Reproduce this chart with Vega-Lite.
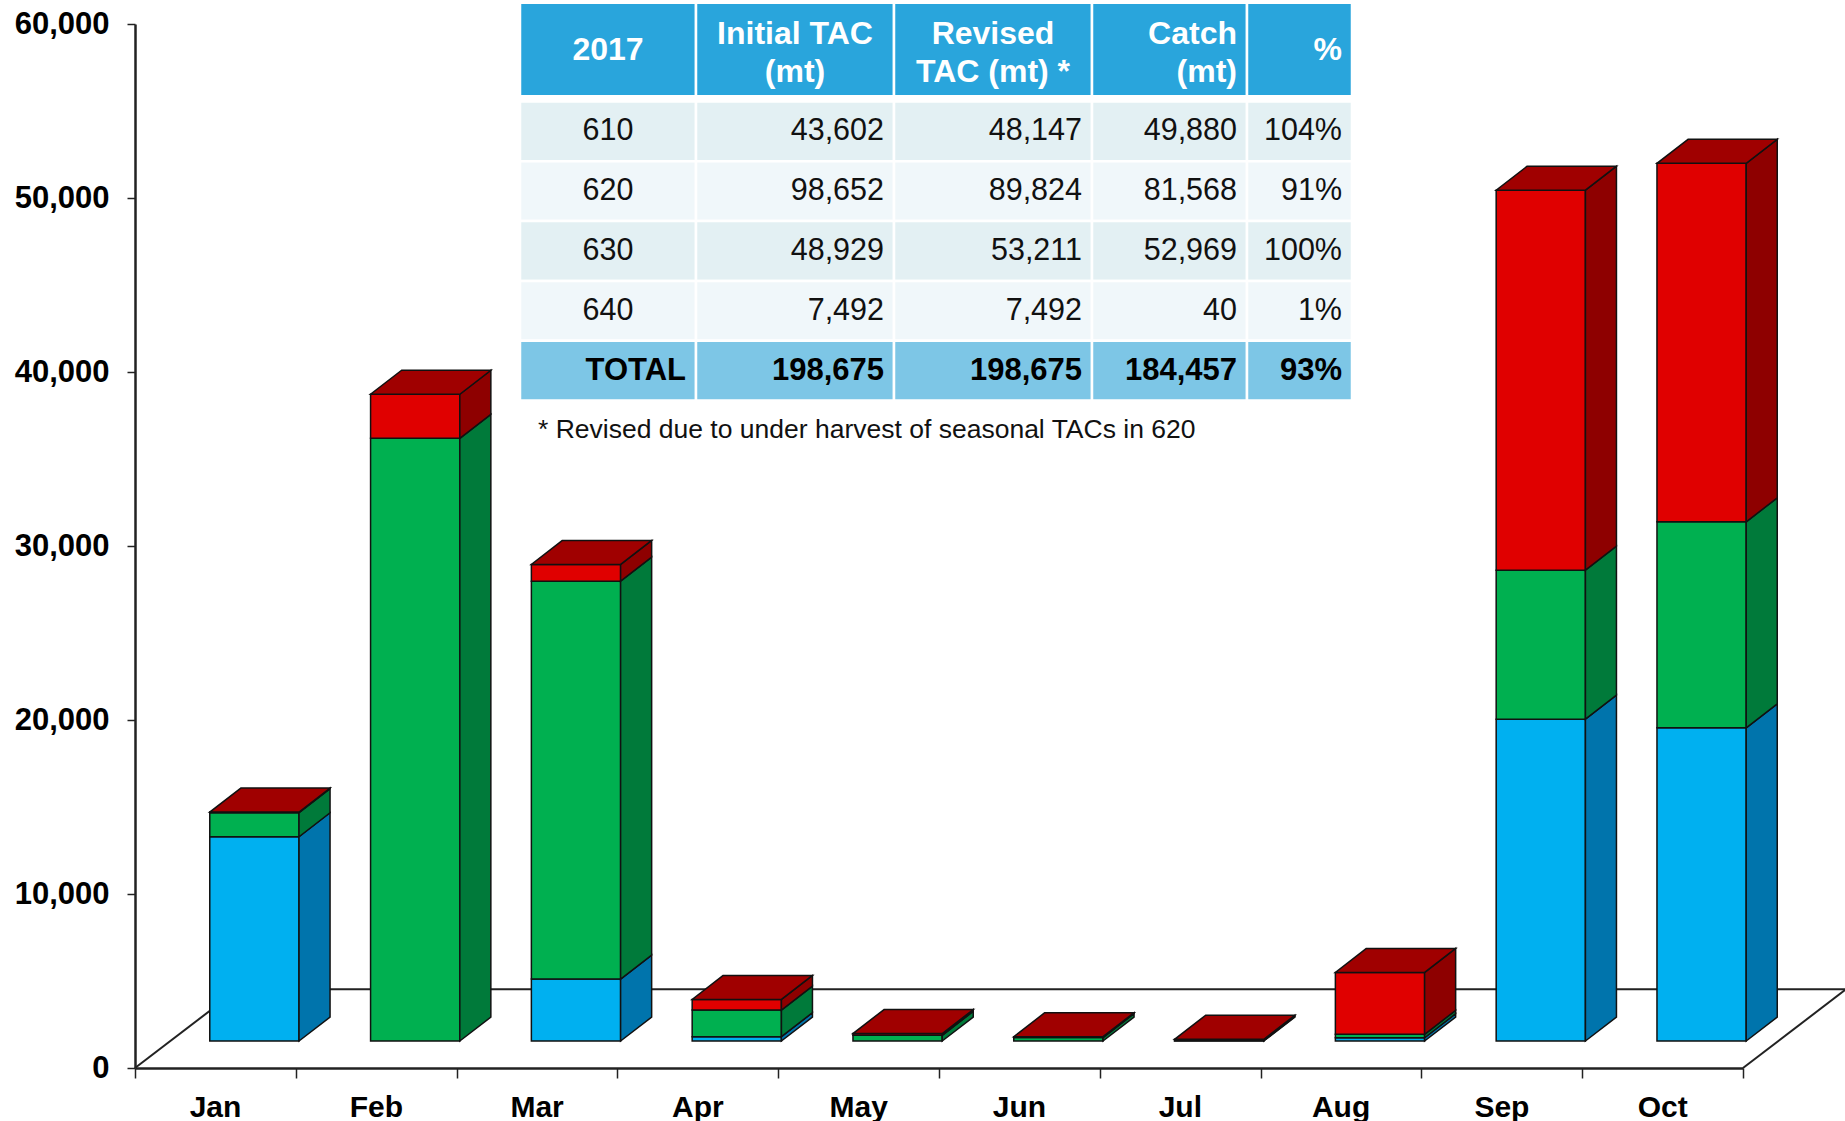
{
"$schema": "https://vega.github.io/schema/vega-lite/v6.json",
"width": 1608,
"height": 1044,
"autosize": {"type": "none"},
"padding": {"left": 135, "top": 24, "right": 102, "bottom": 53},
"background": "white",
"config": {"view": {"stroke": null}, "font": "Liberation Sans", "text": {"font": "Liberation Sans"}},
"resolve": {"scale": {"x": "independent", "y": "independent"}},
"layer": [
{
"data": {"values": [
{"month":"Jan","mon":1,"area":"630","catch":11740},
{"month":"Jan","mon":1,"area":"620","catch":1380},
{"month":"Jan","mon":1,"area":"610","catch":40},
{"month":"Feb","mon":2,"area":"620","catch":34640},
{"month":"Feb","mon":2,"area":"610","catch":2530},
{"month":"Mar","mon":3,"area":"630","catch":3560},
{"month":"Mar","mon":3,"area":"620","catch":22870},
{"month":"Mar","mon":3,"area":"610","catch":960},
{"month":"Apr","mon":4,"area":"630","catch":250},
{"month":"Apr","mon":4,"area":"620","catch":1530},
{"month":"Apr","mon":4,"area":"610","catch":610},
{"month":"May","mon":5,"area":"620","catch":330},
{"month":"May","mon":5,"area":"610","catch":100},
{"month":"Jun","mon":6,"area":"620","catch":200},
{"month":"Jun","mon":6,"area":"610","catch":50},
{"month":"Jul","mon":7,"area":"620","catch":20},
{"month":"Jul","mon":7,"area":"610","catch":80},
{"month":"Aug","mon":8,"area":"630","catch":190},
{"month":"Aug","mon":8,"area":"620","catch":195},
{"month":"Aug","mon":8,"area":"610","catch":3560},
{"month":"Sep","mon":9,"area":"630","catch":18500},
{"month":"Sep","mon":9,"area":"620","catch":8560},
{"month":"Sep","mon":9,"area":"610","catch":21840},
{"month":"Oct","mon":10,"area":"630","catch":18000},
{"month":"Oct","mon":10,"area":"620","catch":11840},
{"month":"Oct","mon":10,"area":"610","catch":20600}
]},
"layer": [
{
"data": {"values": [{}]},
"mark": {"type": "rule", "color": "#222", "strokeWidth": 2},
"encoding": {
"x": {"datum": 0, "type": "quantitative", "scale": {"domain": [0, 10], "nice": false, "zero": false}, "axis": {"title": null}},
"y": {"datum": 0, "type": "quantitative", "scale": {"domain": [0, 60000], "nice": false}, "axis": {"title": null}},
"x2": {"datum": 0.64},
"y2": {"datum": 4520}
}
},
{
"data": {"values": [{}]},
"mark": {"type": "rule", "color": "#222", "strokeWidth": 2},
"encoding": {
"x": {"datum": 0.64, "type": "quantitative", "axis": {"title": null}},
"y": {"datum": 4520, "type": "quantitative", "axis": {"title": null}},
"x2": {"datum": 10.64},
"y2": {"datum": 4520}
}
},
{
"data": {"values": [{}]},
"mark": {"type": "rule", "color": "#222", "strokeWidth": 2},
"encoding": {
"x": {"datum": 10, "type": "quantitative", "axis": {"title": null}},
"y": {"datum": 0, "type": "quantitative", "axis": {"title": null}},
"x2": {"datum": 10.64},
"y2": {"datum": 4520}
}
},
{
"transform": [
{"stack": "catch", "groupby": ["month"], "sort": [{"field": "area", "order": "descending"}], "as": ["lo", "hi"]},
{"calculate": "datum.mon - 0.535", "as": "xl"},
{"calculate": "datum.mon + 0.02", "as": "xr"},
{"calculate": "datum.lo + 1550", "as": "b0"},
{"calculate": "datum.hi + 1550", "as": "b1"}
],
"mark": {"type": "rect", "stroke": "#111", "strokeWidth": 1.5},
"encoding": {
"x": {"field": "xl", "type": "quantitative", "axis": {
"title": null, "values": [0,1,2,3,4,5,6,7,8,9,10],
"labelExpr": "['Jan','Feb','Mar','Apr','May','Jun','Jul','Aug','Sep','Oct',''][datum.value]",
"labelOffset": 80, "labelFlush": false, "labelOverlap": false, "labelBound": false,
"tickSize": 10, "tickColor": "#222", "tickWidth": 1.5, "domainColor": "#222", "domainWidth": 2.5,
"labelFont": "Liberation Sans", "labelFontWeight": "bold", "labelFontSize": 30, "labelColor": "#000",
"labelPadding": 14, "labelBaseline": "top", "grid": false}},
"x2": {"field": "xr"},
"y": {"field": "b0", "type": "quantitative", "axis": {
"title": null, "values": [0,10000,20000,30000,40000,50000,60000],
"labelExpr": "format(datum.value, ',')",
"tickSize": 8, "tickColor": "#222", "tickWidth": 1.5, "domainColor": "#222", "domainWidth": 2.5,
"labelFont": "Liberation Sans", "labelFontWeight": "bold", "labelFontSize": 31, "labelColor": "#000",
"labelPadding": 18, "grid": false}},
"y2": {"field": "b1"},
"fill": {"field": "area", "type": "nominal", "scale": {"domain": ["610", "620", "630"], "range": ["#E00000", "#00B050", "#00B0F0"]}, "legend": null}
}
},
{
"transform": [
{"stack": "catch", "groupby": ["month"], "sort": [{"field": "area", "order": "descending"}], "as": ["lo", "hi"]},
{"calculate": "datum.mon + 0.02", "as": "xr"},
{"calculate": "datum.lo + 1550", "as": "b0"},
{"calculate": "datum.hi + 1550", "as": "b1"},
{"calculate": "[0, 1]", "as": "k"},
{"flatten": ["k"]},
{"calculate": "datum.xr + 0.193 * datum.k", "as": "sx"},
{"calculate": "datum.b0 + 1380 * datum.k", "as": "sy0"},
{"calculate": "datum.b1 + 1380 * datum.k", "as": "sy1"}
],
"mark": {"type": "area", "stroke": "#111", "strokeWidth": 1.5, "orient": "vertical"},
"encoding": {
"x": {"field": "sx", "type": "quantitative", "axis": {"title": null}},
"y": {"field": "sy0", "type": "quantitative", "axis": {"title": null}},
"y2": {"field": "sy1"},
"color": {"field": "area", "type": "nominal", "scale": {"domain": ["610", "620", "630"], "range": ["#8E0000", "#007A3A", "#0074AC"]}, "legend": null},
"detail": {"field": "month"}
}
},
{
"transform": [
{"stack": "catch", "groupby": ["month"], "sort": [{"field": "area", "order": "descending"}], "as": ["lo", "hi"]},
{"filter": "datum.area === '610'"},
{"calculate": "datum.mon - 0.535", "as": "xl"},
{"calculate": "datum.mon + 0.02", "as": "xr"},
{"calculate": "datum.hi + 1550", "as": "b1"},
{"calculate": "[0, 1]", "as": "k"},
{"flatten": ["k"]},
{"calculate": "datum.b1 + 1380 * datum.k", "as": "ty"},
{"calculate": "datum.xl + 0.193 * datum.k", "as": "tx0"},
{"calculate": "datum.xr + 0.193 * datum.k", "as": "tx1"}
],
"mark": {"type": "area", "orient": "horizontal", "fill": "#A00000", "stroke": "#111", "strokeWidth": 1.5},
"encoding": {
"y": {"field": "ty", "type": "quantitative", "axis": {"title": null}},
"x": {"field": "tx0", "type": "quantitative", "axis": {"title": null}},
"x2": {"field": "tx1"},
"detail": {"field": "month"}
}
}
]
},
{
"data": {"values": [{"h": "header"}]},
"layer": [
{"mark": {"type": "rect", "fill": "#29A5DC", "stroke": "white", "strokeWidth": 2.5},
 "encoding": {"x": {"datum": 0, "type": "quantitative", "scale": {"type": "linear", "domain": [0,1,2,3,4,5], "range": [385,561,759,957,1112,1217], "nice": false, "zero": false}, "axis": null}, "x2": {"datum": 1},
 "y": {"field": "h", "type": "nominal", "scale": {"type": "band", "domain": ["header"], "range": [-21.25, 72.25], "paddingInner": 0, "paddingOuter": 0}, "axis": null}}},
{"mark": {"type": "rect", "fill": "#29A5DC", "stroke": "white", "strokeWidth": 2.5},
 "encoding": {"x": {"datum": 1, "type": "quantitative"}, "x2": {"datum": 2}, "y": {"field": "h", "type": "nominal"}}},
{"mark": {"type": "rect", "fill": "#29A5DC", "stroke": "white", "strokeWidth": 2.5},
 "encoding": {"x": {"datum": 2, "type": "quantitative"}, "x2": {"datum": 3}, "y": {"field": "h", "type": "nominal"}}},
{"mark": {"type": "rect", "fill": "#29A5DC", "stroke": "white", "strokeWidth": 2.5},
 "encoding": {"x": {"datum": 3, "type": "quantitative"}, "x2": {"datum": 4}, "y": {"field": "h", "type": "nominal"}}},
{"mark": {"type": "rect", "fill": "#29A5DC", "stroke": "white", "strokeWidth": 2.5},
 "encoding": {"x": {"datum": 4, "type": "quantitative"}, "x2": {"datum": 5}, "y": {"field": "h", "type": "nominal"}}},
{"mark": {"type": "text", "fill": "white", "fontWeight": "bold", "fontSize": 32, "align": "center", "baseline": "middle"},
 "encoding": {"x": {"datum": 0.5, "type": "quantitative"}, "y": {"field": "h", "type": "nominal"}, "text": {"value": "2017"}}},
{"mark": {"type": "text", "fill": "white", "fontWeight": "bold", "fontSize": 32, "align": "center", "baseline": "middle", "lineHeight": 38, "dy": -16},
 "encoding": {"x": {"datum": 1.5, "type": "quantitative"}, "y": {"field": "h", "type": "nominal"}, "text": {"value": ["Initial TAC", "(mt)"]}}},
{"mark": {"type": "text", "fill": "white", "fontWeight": "bold", "fontSize": 32, "align": "center", "baseline": "middle", "lineHeight": 38, "dy": -16},
 "encoding": {"x": {"datum": 2.5, "type": "quantitative"}, "y": {"field": "h", "type": "nominal"}, "text": {"value": ["Revised", "TAC (mt) *"]}}},
{"mark": {"type": "text", "fill": "white", "fontWeight": "bold", "fontSize": 32, "align": "right", "baseline": "middle", "lineHeight": 38, "dy": -16, "dx": -10},
 "encoding": {"x": {"datum": 4, "type": "quantitative"}, "y": {"field": "h", "type": "nominal"}, "text": {"value": ["Catch", "(mt)"]}}},
{"mark": {"type": "text", "fill": "white", "fontWeight": "bold", "fontSize": 32, "align": "right", "baseline": "middle", "dx": -10},
 "encoding": {"x": {"datum": 5, "type": "quantitative"}, "y": {"field": "h", "type": "nominal"}, "text": {"value": "%"}}}
]
},
{
"data": {"values": [
{"area":"610","initial":"43,602","revised":"48,147","catch":"49,880","pct":"104%"},
{"area":"620","initial":"98,652","revised":"89,824","catch":"81,568","pct":"91%"},
{"area":"630","initial":"48,929","revised":"53,211","catch":"52,969","pct":"100%"},
{"area":"640","initial":"7,492","revised":"7,492","catch":"40","pct":"1%"},
{"area":"TOTAL","initial":"198,675","revised":"198,675","catch":"184,457","pct":"93%"}
]},
"layer": [
{"mark": {"type": "rect", "stroke": "white", "strokeWidth": 2.5},
 "encoding": {"x": {"datum": 0, "type": "quantitative", "scale": {"type": "linear", "domain": [0,1,2,3,4,5], "range": [385,561,759,957,1112,1217], "nice": false, "zero": false}, "axis": null}, "x2": {"datum": 1},
 "y": {"field": "area", "type": "nominal", "scale": {"type": "band", "domain": ["610","620","630","640","TOTAL","note"], "range": [77.5, 436.3], "paddingInner": 0, "paddingOuter": 0}, "axis": null},
 "fill": {"condition": [{"test": "datum.area === 'TOTAL'", "value": "#7DC6E6"}, {"test": "datum.area === '610' || datum.area === '630'", "value": "#E3F0F3"}], "value": "#F0F7FA"}}},
{"mark": {"type": "rect", "stroke": "white", "strokeWidth": 2.5},
 "encoding": {"x": {"datum": 1, "type": "quantitative"}, "x2": {"datum": 2}, "y": {"field": "area", "type": "nominal"},
 "fill": {"condition": [{"test": "datum.area === 'TOTAL'", "value": "#7DC6E6"}, {"test": "datum.area === '610' || datum.area === '630'", "value": "#E3F0F3"}], "value": "#F0F7FA"}}},
{"mark": {"type": "rect", "stroke": "white", "strokeWidth": 2.5},
 "encoding": {"x": {"datum": 2, "type": "quantitative"}, "x2": {"datum": 3}, "y": {"field": "area", "type": "nominal"},
 "fill": {"condition": [{"test": "datum.area === 'TOTAL'", "value": "#7DC6E6"}, {"test": "datum.area === '610' || datum.area === '630'", "value": "#E3F0F3"}], "value": "#F0F7FA"}}},
{"mark": {"type": "rect", "stroke": "white", "strokeWidth": 2.5},
 "encoding": {"x": {"datum": 3, "type": "quantitative"}, "x2": {"datum": 4}, "y": {"field": "area", "type": "nominal"},
 "fill": {"condition": [{"test": "datum.area === 'TOTAL'", "value": "#7DC6E6"}, {"test": "datum.area === '610' || datum.area === '630'", "value": "#E3F0F3"}], "value": "#F0F7FA"}}},
{"mark": {"type": "rect", "stroke": "white", "strokeWidth": 2.5},
 "encoding": {"x": {"datum": 4, "type": "quantitative"}, "x2": {"datum": 5}, "y": {"field": "area", "type": "nominal"},
 "fill": {"condition": [{"test": "datum.area === 'TOTAL'", "value": "#7DC6E6"}, {"test": "datum.area === '610' || datum.area === '630'", "value": "#E3F0F3"}], "value": "#F0F7FA"}}},
{"transform": [{"filter": "datum.area !== 'TOTAL'"}],
 "mark": {"type": "text", "fill": "#111", "fontSize": 30.5, "align": "center", "baseline": "middle"},
 "encoding": {"x": {"datum": 0.5, "type": "quantitative"}, "y": {"field": "area", "type": "nominal"}, "text": {"field": "area"}}},
{"transform": [{"filter": "datum.area !== 'TOTAL'"}],
 "mark": {"type": "text", "fill": "#111", "fontSize": 30.5, "align": "right", "baseline": "middle", "dx": -10},
 "encoding": {"x": {"datum": 2, "type": "quantitative"}, "y": {"field": "area", "type": "nominal"}, "text": {"field": "initial"}}},
{"transform": [{"filter": "datum.area !== 'TOTAL'"}],
 "mark": {"type": "text", "fill": "#111", "fontSize": 30.5, "align": "right", "baseline": "middle", "dx": -10},
 "encoding": {"x": {"datum": 3, "type": "quantitative"}, "y": {"field": "area", "type": "nominal"}, "text": {"field": "revised"}}},
{"transform": [{"filter": "datum.area !== 'TOTAL'"}],
 "mark": {"type": "text", "fill": "#111", "fontSize": 30.5, "align": "right", "baseline": "middle", "dx": -10},
 "encoding": {"x": {"datum": 4, "type": "quantitative"}, "y": {"field": "area", "type": "nominal"}, "text": {"field": "catch"}}},
{"transform": [{"filter": "datum.area !== 'TOTAL'"}],
 "mark": {"type": "text", "fill": "#111", "fontSize": 30.5, "align": "right", "baseline": "middle", "dx": -10},
 "encoding": {"x": {"datum": 5, "type": "quantitative"}, "y": {"field": "area", "type": "nominal"}, "text": {"field": "pct"}}},
{"transform": [{"filter": "datum.area === 'TOTAL'"}],
 "mark": {"type": "text", "fill": "#000", "fontSize": 31, "fontWeight": "bold", "align": "right", "baseline": "middle", "dx": -10},
 "encoding": {"x": {"datum": 1, "type": "quantitative"}, "y": {"field": "area", "type": "nominal"}, "text": {"field": "area"}}},
{"transform": [{"filter": "datum.area === 'TOTAL'"}],
 "mark": {"type": "text", "fill": "#000", "fontSize": 31, "fontWeight": "bold", "align": "right", "baseline": "middle", "dx": -10},
 "encoding": {"x": {"datum": 2, "type": "quantitative"}, "y": {"field": "area", "type": "nominal"}, "text": {"field": "initial"}}},
{"transform": [{"filter": "datum.area === 'TOTAL'"}],
 "mark": {"type": "text", "fill": "#000", "fontSize": 31, "fontWeight": "bold", "align": "right", "baseline": "middle", "dx": -10},
 "encoding": {"x": {"datum": 3, "type": "quantitative"}, "y": {"field": "area", "type": "nominal"}, "text": {"field": "revised"}}},
{"transform": [{"filter": "datum.area === 'TOTAL'"}],
 "mark": {"type": "text", "fill": "#000", "fontSize": 31, "fontWeight": "bold", "align": "right", "baseline": "middle", "dx": -10},
 "encoding": {"x": {"datum": 4, "type": "quantitative"}, "y": {"field": "area", "type": "nominal"}, "text": {"field": "catch"}}},
{"transform": [{"filter": "datum.area === 'TOTAL'"}],
 "mark": {"type": "text", "fill": "#000", "fontSize": 31, "fontWeight": "bold", "align": "right", "baseline": "middle", "dx": -10},
 "encoding": {"x": {"datum": 5, "type": "quantitative"}, "y": {"field": "area", "type": "nominal"}, "text": {"field": "pct"}}},
{"data": {"values": [{"area": "note", "note": "* Revised due to under harvest of seasonal TACs in 620"}]},
 "mark": {"type": "text", "fill": "#111", "fontSize": 26.5, "align": "left", "baseline": "middle", "dx": 18},
 "encoding": {"x": {"datum": 0, "type": "quantitative"}, "y": {"field": "area", "type": "nominal"}, "text": {"field": "note"}}}
]
}
]
}
